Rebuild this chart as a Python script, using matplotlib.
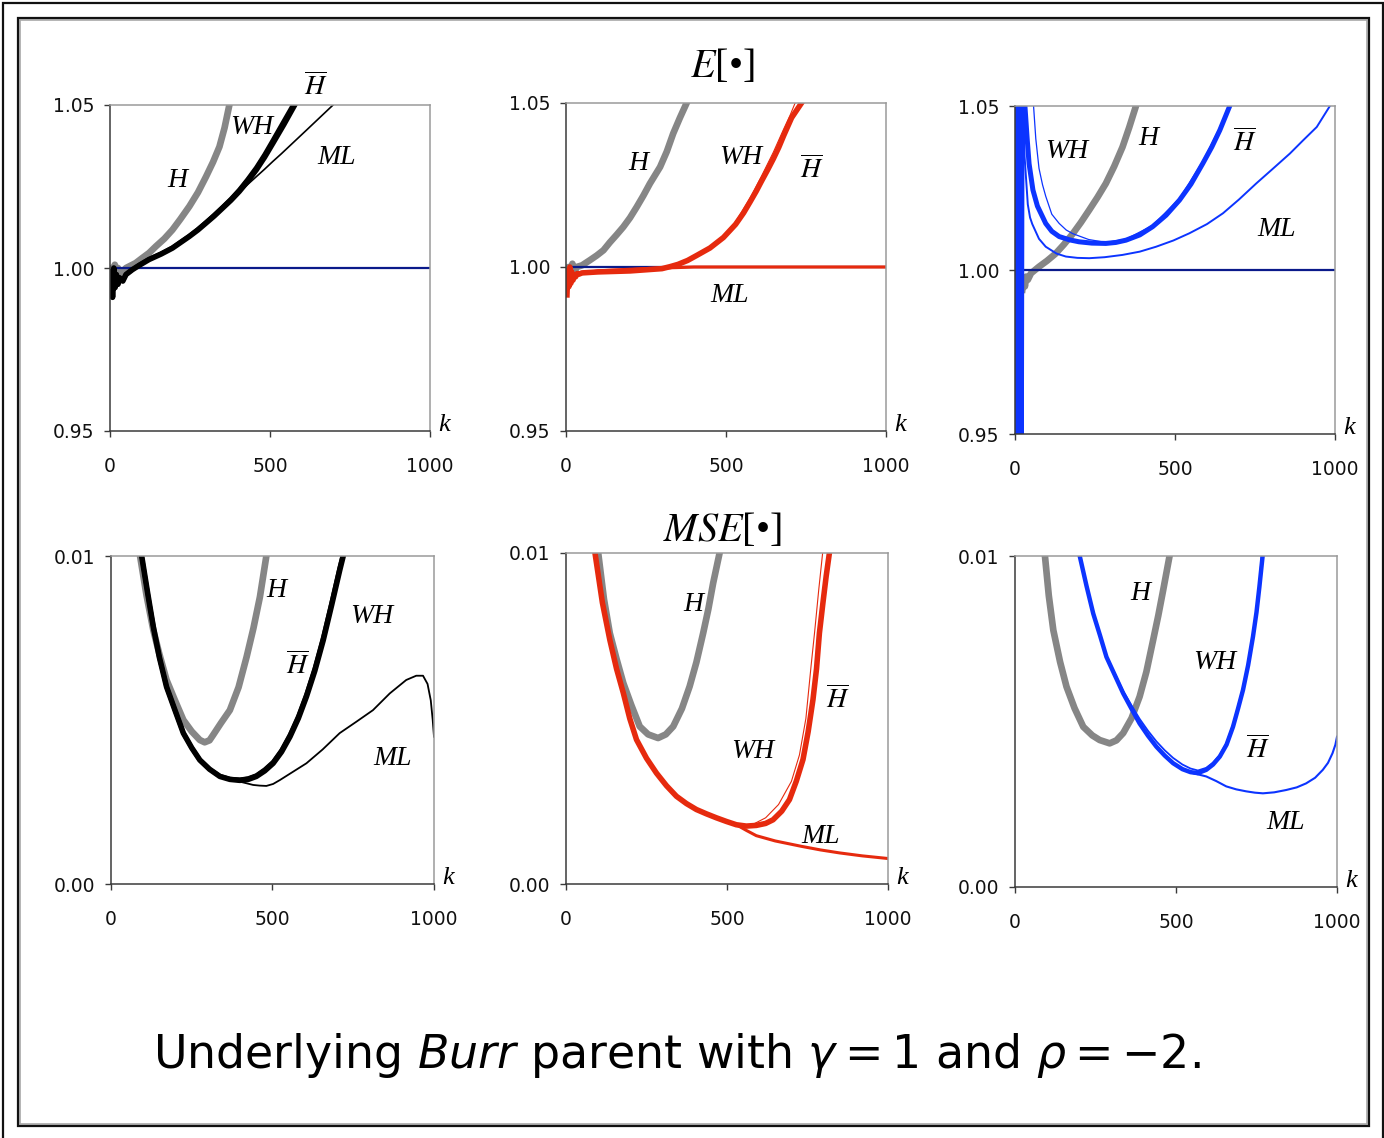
import matplotlib
matplotlib.use("Agg")
import matplotlib.pyplot as plt
from matplotlib.patches import Rectangle

# ---------------- DATA ----------------
# Top row: E[.]   (k, value)
# Top-left (black)
k_tl_H = [2, 5, 10, 15, 20, 25, 30, 40, 50, 60, 80, 100, 122, 143, 170, 195, 220, 248, 275, 300,
          322, 342, 358, 373]
v_tl_H = [0.996, 1.000, 0.995, 1.001, 0.998, 1.000, 0.998, 0.999, 1.000, 1.0005, 1.0015, 1.0030,
          1.0046, 1.0066, 1.0090, 1.0117, 1.0150, 1.0189, 1.0232, 1.0280, 1.0325, 1.0372, 1.0430,
          1.0500]
k_tl_Hb = [2, 5, 8, 12, 16, 20, 25, 30, 40, 50, 70, 91, 122, 160, 195, 220, 248, 275, 300, 326,
           352, 378, 404, 430, 457, 483, 509, 543, 577]
v_tl_Hb = [0.993, 0.999, 0.991, 1.000, 0.994, 0.998, 0.995, 0.997, 0.996, 0.998, 0.9995, 1.0008,
           1.0026, 1.0043, 1.0061, 1.0078, 1.0097, 1.0117, 1.0138, 1.0160, 1.0184, 1.0208, 1.0235,
           1.0266, 1.0301, 1.0340, 1.0383, 1.0440, 1.0500]
k_tl_WH = [2, 5, 8, 12, 16, 20, 25, 30, 40, 50, 70, 91, 122, 160, 195, 220, 248, 275, 300, 326,
           352, 378, 404, 430, 457, 483, 509, 541, 572]
v_tl_WH = [0.994, 0.998, 0.992, 1.000, 0.995, 0.998, 0.995, 0.997, 0.996, 0.998, 0.9995, 1.0009,
           1.0027, 1.0044, 1.0062, 1.0079, 1.0098, 1.0119, 1.0140, 1.0163, 1.0187, 1.0212, 1.0240,
           1.0272, 1.0308, 1.0348, 1.0392, 1.0447, 1.0500]
k_tl_ML = [2, 5, 8, 12, 16, 20, 25, 30, 40, 50, 70, 91, 122, 160, 195, 220, 248, 275, 300, 326,
           352, 378, 404, 430, 457, 483, 509, 535, 561, 587, 613, 655, 697]
v_tl_ML = [0.993, 0.999, 0.991, 1.000, 0.994, 0.998, 0.995, 0.997, 0.996, 0.998, 0.9995, 1.0008,
           1.0026, 1.0043, 1.0061, 1.0078, 1.0097, 1.0117, 1.0138, 1.0160, 1.0184, 1.0208, 1.0232,
           1.0256, 1.0280, 1.0303, 1.0327, 1.0350, 1.0374, 1.0398, 1.0422, 1.0461, 1.0500]

# Top-middle (red)
k_tm_H = [3, 8, 14, 20, 26, 33, 50, 75, 96, 117, 137, 158, 179, 200, 221, 242, 262, 294, 315, 335,
          356, 377]
v_tm_H = [0.996, 1.000, 0.997, 1.001, 0.998, 1.000, 1.0005, 1.0021, 1.0035, 1.0051, 1.0075, 1.0098,
          1.0122, 1.0150, 1.0183, 1.0218, 1.0254, 1.0305, 1.0352, 1.0407, 1.0455, 1.0500]
k_tm_Hb = [3, 6, 9, 12, 15, 18, 22, 26, 30, 35, 40, 50, 100, 200, 300, 325, 350, 380, 408, 450,
           492, 530, 555, 575, 595, 610, 630, 648, 665, 680, 705, 736]
v_tm_Hb = [0.9915, 0.999, 0.994, 1.000, 0.995, 0.9985, 0.996, 0.9975, 0.997, 0.998, 0.9978, 0.9982,
           0.9985, 0.9988, 0.9995, 1.0001, 1.0008, 1.0020, 1.0035, 1.0058, 1.0090, 1.0130, 1.0165,
           1.0198, 1.0232, 1.0260, 1.0296, 1.0330, 1.0365, 1.0400, 1.0455, 1.0500]
k_tm_WH = [300, 350, 408, 450, 492, 530, 575, 610, 648, 680, 700, 716]
v_tm_WH = [0.9996, 1.0009, 1.0037, 1.0061, 1.0095, 1.0138, 1.0210, 1.0275, 1.0350, 1.0420, 1.0462,
           1.0500]
k_tm_ML = [3, 6, 9, 12, 16, 20, 25, 30, 40, 50, 100, 200, 300, 400, 1000]
v_tm_ML = [0.993, 0.998, 0.995, 0.999, 0.996, 0.998, 0.997, 0.998, 0.9978, 0.998, 0.9988, 0.9993,
           0.9997, 1.0000, 1.0000]

# Top-right (blue)
k_tr_H = [23, 27, 31, 35, 40, 50, 75, 100, 127, 153, 180, 206, 232, 258, 284, 310, 336, 357, 378]
v_tr_H = [0.994, 0.997, 0.995, 0.998, 0.997, 0.999, 1.001, 1.0028, 1.0050, 1.0078, 1.0110, 1.0145,
          1.0183, 1.0222, 1.0264, 1.0316, 1.0375, 1.0435, 1.0500]
k_tr_Hb = [3, 7, 11, 15, 19, 23, 26, 31, 38, 44, 56, 70, 96, 115, 138, 170, 200, 240, 284, 315, 347,
           390, 430, 472, 514, 550, 587, 615, 640, 671]
v_tr_Hb = [0.90, 1.10, 0.90, 1.10, 0.90, 1.10, 1.10, 1.0500, 1.0400, 1.0324, 1.0244, 1.0195,
           1.0142, 1.0118, 1.0102, 1.0092, 1.0086, 1.0082, 1.0081, 1.0084, 1.0091, 1.0107, 1.0132,
           1.0167, 1.0213, 1.0262, 1.0325, 1.0375, 1.0426, 1.0500]
k_tr_WH = [45, 58, 65, 75, 86, 96, 115, 138, 160, 180, 230, 284, 347, 430, 514, 587, 640, 668]
v_tr_WH = [1.10, 1.0500, 1.0400, 1.0310, 1.0260, 1.0225, 1.0170, 1.0142, 1.0122, 1.0111, 1.0093,
           1.0084, 1.0094, 1.0136, 1.0218, 1.0332, 1.0435, 1.0500]
k_tr_ML = [22, 30, 40, 47, 54, 75, 96, 130, 159, 195, 232, 280, 336, 390, 441, 495, 545, 600, 650,
           700, 754, 805, 859, 900, 943, 984]
v_tr_ML = [1.06, 1.0345, 1.0200, 1.0160, 1.0140, 1.0095, 1.0071, 1.0050, 1.0041, 1.0037, 1.0036,
           1.0039, 1.0046, 1.0056, 1.0071, 1.0090, 1.0112, 1.0140, 1.0173, 1.0215, 1.0264, 1.0308,
           1.0355, 1.0395, 1.0436, 1.0500]

# Bottom row: MSE[.]
# Bottom-left (black)
k_bl_H = [80, 90, 110, 131, 150, 172, 198, 224, 250, 275, 290, 305, 316, 340, 368, 395, 420, 441,
          461, 481]
v_bl_H = [0.0120, 0.0100, 0.0088, 0.00774, 0.0070, 0.00622, 0.0056, 0.0050, 0.00465, 0.00439,
          0.00432, 0.00438, 0.00454, 0.0049, 0.0053, 0.0060, 0.00693, 0.0078, 0.00875, 0.0100]
k_bl_Hb = [85, 95, 113, 131, 150, 172, 198, 224, 250, 275, 305, 337, 368, 399, 425, 450, 476, 502,
           528, 554, 580, 605, 631, 657, 683, 708, 719]
v_bl_Hb = [0.0112, 0.0100, 0.0089, 0.00784, 0.0069, 0.00601, 0.0053, 0.0046, 0.00415, 0.00378,
           0.0035, 0.00328, 0.00319, 0.00316, 0.00319, 0.00328, 0.00345, 0.00368, 0.00403, 0.00449,
           0.00505, 0.00571, 0.0065, 0.00743, 0.0085, 0.00956, 0.0100]
k_bl_WH = [85, 95, 113, 131, 150, 172, 198, 224, 250, 275, 305, 337, 368, 399, 425, 450, 476, 502,
           528, 554, 580, 605, 631, 657, 683, 708, 717]
v_bl_WH = [0.0112, 0.0100, 0.0089, 0.00784, 0.0069, 0.00601, 0.0053, 0.0046, 0.00415, 0.00378,
           0.0035, 0.00329, 0.00320, 0.00318, 0.00322, 0.00331, 0.00349, 0.00372, 0.00408, 0.00455,
           0.00512, 0.00578, 0.00658, 0.00752, 0.00858, 0.00965, 0.0100]
k_bl_ML = [85, 95, 113, 131, 150, 172, 198, 224, 250, 275, 305, 337, 368, 399, 420, 440, 460, 481,
           502, 523, 560, 605, 655, 708, 760, 811, 863, 914, 945, 966, 980, 990, 996, 1000]
v_bl_ML = [0.0112, 0.0100, 0.0089, 0.00784, 0.0069, 0.00601, 0.0053, 0.0046, 0.00415, 0.00378,
           0.0035, 0.00328, 0.00318, 0.00312, 0.00307, 0.00302, 0.00300, 0.00299, 0.00305, 0.00317,
           0.0034, 0.00368, 0.0041, 0.0046, 0.00495, 0.0053, 0.00581, 0.00622, 0.00635, 0.00635,
           0.0061, 0.0056, 0.0050, 0.00449]

# Bottom-middle (red)
k_bm_H = [90, 100, 118, 136, 157, 178, 203, 229, 255, 286, 310, 333, 360, 384, 405, 426, 442, 457,
          477]
v_bm_H = [0.0115, 0.0100, 0.0086, 0.00758, 0.0068, 0.00607, 0.0054, 0.00476, 0.00452, 0.00441,
          0.00452, 0.00476, 0.0053, 0.00597, 0.0067, 0.00758, 0.0083, 0.00909, 0.0100]
k_bm_Hb = [85, 90, 113, 136, 157, 178, 198, 219, 250, 281, 312, 343, 374, 405, 436, 467, 498, 529,
           560, 591, 620, 643, 670, 694, 715, 736, 752, 767, 778, 787, 798, 808, 818]
v_bm_Hb = [0.0105, 0.0100, 0.0085, 0.00738, 0.0065, 0.00577, 0.0050, 0.00436, 0.0038, 0.00335,
           0.00297, 0.00265, 0.00243, 0.00225, 0.00212, 0.00200, 0.00189, 0.00179, 0.00175, 0.00177,
           0.00183, 0.00194, 0.0022, 0.00255, 0.0031, 0.00376, 0.0046, 0.00557, 0.0065, 0.00758,
           0.0085, 0.0093, 0.0100]
k_bm_WH = [500, 540, 580, 620, 660, 700, 725, 745, 761, 772, 785, 797]
v_bm_WH = [0.0019, 0.00178, 0.0018, 0.0020, 0.0024, 0.0031, 0.0039, 0.0050, 0.00658, 0.0076,
           0.0089, 0.0100]
k_bm_ML = [85, 90, 113, 136, 157, 178, 198, 219, 250, 281, 312, 343, 374, 405, 436, 467, 498, 529,
           560, 591, 650, 730, 790, 849, 920, 1000]
v_bm_ML = [0.0105, 0.0100, 0.0085, 0.00738, 0.0065, 0.00577, 0.0050, 0.00436, 0.0038, 0.00335,
           0.00297, 0.00265, 0.00243, 0.00225, 0.00212, 0.00200, 0.00189, 0.00179, 0.00162, 0.00146,
           0.0013, 0.00114, 0.00103, 0.00094, 0.00085, 0.00077]

# Bottom-right (blue)
k_br_H = [85, 93, 105, 119, 140, 160, 185, 212, 240, 263, 294, 315, 336, 362, 387, 408, 429, 445,
          460, 480]
v_br_H = [0.0115, 0.0100, 0.0088, 0.00776, 0.0068, 0.00605, 0.0054, 0.00484, 0.00458, 0.00444,
          0.00434, 0.00443, 0.00465, 0.0051, 0.00575, 0.0065, 0.00746, 0.0082, 0.00896, 0.0100]
k_br_Hb = [195, 201, 222, 243, 264, 284, 310, 336, 361, 387, 413, 439, 465, 491, 520, 545, 568, 594,
           615, 636, 657, 677, 693, 708, 724, 739, 750, 759, 769]
v_br_Hb = [0.0106, 0.0100, 0.0091, 0.00826, 0.0076, 0.00695, 0.0064, 0.00585, 0.0054, 0.00494,
           0.00457, 0.00424, 0.00397, 0.00374, 0.00356, 0.00347, 0.00344, 0.00354, 0.0037, 0.00394,
           0.0043, 0.00484, 0.0054, 0.00595, 0.0067, 0.00756, 0.0083, 0.00907, 0.0100]
k_br_WH = [195, 201, 222, 243, 264, 284, 310, 336, 361, 387, 413, 439, 465, 491, 520, 545, 568, 594,
           615, 636, 657, 677, 693, 708, 724, 739, 750, 759, 766]
v_br_WH = [0.0106, 0.0100, 0.0091, 0.00826, 0.0076, 0.00697, 0.00645, 0.00592, 0.0055, 0.00508,
           0.00472, 0.0044, 0.00413, 0.0039, 0.0037, 0.00358, 0.00352, 0.0036, 0.00376, 0.00399,
           0.00436, 0.0049, 0.00547, 0.00602, 0.00678, 0.00764, 0.0084, 0.00915, 0.0100]
k_br_ML = [195, 201, 222, 243, 264, 284, 310, 336, 361, 387, 413, 439, 465, 491, 520, 553, 594,
           625, 656, 687, 718, 745, 770, 805, 842, 875, 904, 932, 956, 972, 986, 995, 1000]
v_br_ML = [0.0106, 0.0100, 0.0091, 0.00826, 0.0076, 0.00695, 0.0064, 0.00585, 0.0054, 0.00494,
           0.00457, 0.00424, 0.00397, 0.00374, 0.00358, 0.00344, 0.00334, 0.0032, 0.00304, 0.00295,
           0.00289, 0.00285, 0.00283, 0.00286, 0.00293, 0.00301, 0.00313, 0.0033, 0.00354, 0.00375,
           0.00404, 0.0043, 0.00454]

# reference line (E[.] = 1)
ref_k_tl = [20, 1000]
ref_k_tm = [20, 1000]
ref_k_tr = [30, 1000]
ref_v = [1.0, 1.0]

x_ticks = [0, 500, 1000]
x_ticklabels = ["0", "500", "1000"]
e_ticks = [0.95, 1.00, 1.05]
e_ticklabels = ["0.95", "1.00", "1.05"]
m_ticks = [0.00, 0.01]
m_ticklabels = ["0.00", "0.01"]

# label positions (k, value)
lab_tl = {"H": (209, 1.0267), "WH": (444, 1.043), "Hb": (644, 1.0555), "ML": (709, 1.034)}
lab_tm = {"H": (225, 1.0317), "WH": (547, 1.0335), "Hb": (769, 1.0295), "ML": (512, 0.9912)}
lab_tr = {"WH": (162, 1.036), "H": (416, 1.040), "Hb": (719, 1.0388), "ML": (816, 1.0125)}
lab_bl = {"H": (511, 0.00896), "WH": (808, 0.00817), "Hb": (579, 0.00664), "ML": (873, 0.00384)}
lab_bm = {"H": (394, 0.00843), "Hb": (845, 0.00555), "WH": (581, 0.0040), "ML": (792, 0.00145)}
lab_br = {"H": (388, 0.00888), "WH": (621, 0.00677), "Hb": (755, 0.00413), "ML": (839, 0.00196)}

# ---------------- STYLE ----------------
W, H = 1384, 1138
DPI = 100
GRAY = "#868686"
BLACK = "#000000"
RED = "#e62a0e"
BLUE = "#0c34ff"
NAVY = "#0a1a8a"

fig = plt.figure(figsize=(W / DPI, H / DPI), dpi=DPI)
fig.patch.set_facecolor("white")


def px_axes(x0, y0, x1, y1):
    return fig.add_axes([x0 / W, 1 - y1 / H, (x1 - x0) / W, (y1 - y0) / H])


def style(ax, yticks, ylabels, ylim):
    ax.set_xlim(0, 1000)
    ax.set_ylim(*ylim)
    ax.set_xticks(x_ticks)
    ax.set_xticklabels(x_ticklabels)
    ax.set_yticks(yticks)
    ax.set_yticklabels(ylabels)
    for s in ("left", "bottom"):
        ax.spines[s].set_color("#3a3a3a")
        ax.spines[s].set_linewidth(1.1)
    for s in ("top", "right"):
        ax.spines[s].set_color("#9a9a9a")
        ax.spines[s].set_linewidth(1.1)
    ax.tick_params(axis="both", direction="out", length=4.5, width=1.0, color="#3a3a3a",
                   labelsize=13.5, labelcolor="#111111")
    ax.tick_params(axis="x", pad=14)
    ax.tick_params(axis="y", pad=7)
    for lab in ax.get_xticklabels() + ax.get_yticklabels():
        lab.set_fontfamily("DejaVu Sans")
    ax.text(1.025, 0.0, "k", transform=ax.transAxes, fontfamily="Liberation Serif",
            fontstyle="italic", fontsize=19, ha="left", va="baseline", clip_on=False)


def labels(ax, lab):
    for name, (kx, vy) in lab.items():
        if name == "Hb":
            ax.text(kx, vy, r"$\overline{H}$", math_fontfamily="stix", fontsize=20,
                    ha="center", va="center", clip_on=False)
        else:
            ax.text(kx, vy, name, fontfamily="Liberation Serif", fontstyle="italic",
                    fontsize=20, ha="center", va="center", clip_on=False)


E_LIM = (0.95, 1.05)
M_LIM = (0.0, 0.01)
LW_H = 4.8
LW_THICK = 4.0

# ---- top-left
ax = px_axes(110, 105, 430, 431)
style(ax, e_ticks, e_ticklabels, E_LIM)
ax.plot(k_tl_H, v_tl_H, color=GRAY, lw=LW_H)
ax.plot(ref_k_tl, ref_v, color=NAVY, lw=1.6)
ax.plot(k_tl_WH, v_tl_WH, color=BLACK, lw=3.2)
ax.plot(k_tl_Hb, v_tl_Hb, color=BLACK, lw=LW_THICK)
ax.plot(k_tl_ML, v_tl_ML, color=BLACK, lw=1.2)
labels(ax, lab_tl)

# ---- top-middle
ax = px_axes(566, 103, 886, 431)
style(ax, e_ticks, e_ticklabels, E_LIM)
ax.plot(k_tm_H, v_tm_H, color=GRAY, lw=LW_H)
ax.plot(ref_k_tm, ref_v, color=NAVY, lw=1.6)
ax.plot(k_tm_Hb, v_tm_Hb, color=RED, lw=LW_THICK)
ax.plot(k_tm_WH, v_tm_WH, color=RED, lw=0.8)
ax.plot(k_tm_ML, v_tm_ML, color=RED, lw=2.3)
labels(ax, lab_tm)

# ---- top-right
ax = px_axes(1015, 106, 1335, 434)
style(ax, e_ticks, e_ticklabels, E_LIM)
ax.plot(k_tr_H, v_tr_H, color=GRAY, lw=LW_H)
ax.plot(ref_k_tr, ref_v, color=NAVY, lw=1.6)
ax.plot(k_tr_Hb, v_tr_Hb, color=BLUE, lw=3.6)
ax.plot(k_tr_WH, v_tr_WH, color=BLUE, lw=0.9)
ax.plot(k_tr_ML, v_tr_ML, color=BLUE, lw=1.4)
labels(ax, lab_tr)

# ---- bottom-left
ax = px_axes(111, 556, 434, 884)
style(ax, m_ticks, m_ticklabels, M_LIM)
ax.plot(k_bl_H, v_bl_H, color=GRAY, lw=LW_H)
ax.plot(k_bl_WH, v_bl_WH, color=BLACK, lw=3.2)
ax.plot(k_bl_Hb, v_bl_Hb, color=BLACK, lw=LW_THICK)
ax.plot(k_bl_ML, v_bl_ML, color=BLACK, lw=1.3)
labels(ax, lab_bl)

# ---- bottom-middle
ax = px_axes(566, 553, 888, 884)
style(ax, m_ticks, m_ticklabels, M_LIM)
ax.plot(k_bm_H, v_bm_H, color=GRAY, lw=LW_H)
ax.plot(k_bm_Hb, v_bm_Hb, color=RED, lw=LW_THICK)
ax.plot(k_bm_WH, v_bm_WH, color=RED, lw=0.8)
ax.plot(k_bm_ML, v_bm_ML, color=RED, lw=2.2)
labels(ax, lab_bm)

# ---- bottom-right
ax = px_axes(1015, 556, 1337, 887)
style(ax, m_ticks, m_ticklabels, M_LIM)
ax.plot(k_br_H, v_br_H, color=GRAY, lw=LW_H)
ax.plot(k_br_Hb, v_br_Hb, color=BLUE, lw=3.2)
ax.plot(k_br_WH, v_br_WH, color=BLUE, lw=1.3)
ax.plot(k_br_ML, v_br_ML, color=BLUE, lw=1.5)
labels(ax, lab_br)

# ---- titles
fig.text(722 / W, 1 - 67 / H, r"$E$[•]", fontfamily="Liberation Serif", math_fontfamily="stix",
         fontsize=29, ha="center", va="center")
fig.text(722 / W, 1 - 531 / H, r"$MSE$[•]", fontfamily="Liberation Serif",
         math_fontfamily="stix", fontsize=29, ha="center", va="center")

# ---- caption
fig.text(677 / W, 1 - 1056 / H,
         r"Underlying $\mathit{Burr}$ parent with $\gamma = 1$ and $\rho = -2$.",
         fontfamily="DejaVu Sans", math_fontfamily="dejavusans", fontsize=33,
         ha="center", va="center")

# ---- frames
fig.patches.append(Rectangle((3 / W, -0.01), (1383 - 3) / W, 1 - 3 / H + 0.01,
                             transform=fig.transFigure, fill=False, lw=1.6, ec="#111111"))
fig.patches.append(Rectangle((19.5 / W, 1 - 1123.5 / H), (1366.5 - 19.5) / W, (1123.5 - 19.5) / H,
                             transform=fig.transFigure, fill=False, lw=1.2, ec="#a8a8a8"))
fig.patches.append(Rectangle((17.5 / W, 1 - 1125.5 / H), (1368.5 - 17.5) / W, (1125.5 - 17.5) / H,
                             transform=fig.transFigure, fill=False, lw=1.6, ec="#111111"))

fig.savefig("out.png", dpi=DPI, facecolor="white")
